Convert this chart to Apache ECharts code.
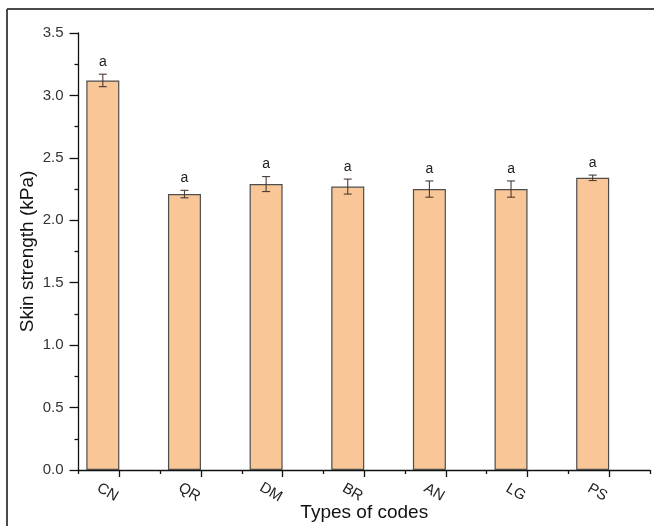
<!DOCTYPE html>
<html>
<head>
<meta charset="utf-8">
<script src="https://cdn.jsdelivr.net/npm/echarts@6/dist/echarts.min.js"></script>
<style>html,body{margin:0;padding:0;background:#fff;}#c{width:654px;height:526px;}</style>
</head>
<body>
<div id="c"></div>
<script>
const categories = ['CN', 'QR', 'DM', 'BR', 'AN', 'LG', 'PS'];
const values = [3.12, 2.21, 2.29, 2.27, 2.25, 2.25, 2.34];
const errors = [0.05, 0.03, 0.06, 0.06, 0.065, 0.065, 0.022];
const letters = ['a', 'a', 'a', 'a', 'a', 'a', 'a'];
const yTicks = [0, 0.5, 1.0, 1.5, 2.0, 2.5, 3.0, 3.5];

const FONT = 'Liberation Sans, Arial, sans-serif';
const BAR_W = 33;

const chart = echarts.init(document.getElementById('c'));
chart.setOption({
  backgroundColor: '#fff',
  animation: false,
  graphic: [
    { type: 'line', shape: { x1: 7, y1: 9, x2: 654, y2: 9 }, style: { stroke: '#4a4a4a', lineWidth: 2 } },
    { type: 'line', shape: { x1: 7, y1: 9, x2: 7, y2: 526 }, style: { stroke: '#4a4a4a', lineWidth: 2 } }
  ],
  grid: { left: 78.5, right: 4, top: 33, bottom: 56, containLabel: false, outerBoundsMode: 'none' },
  xAxis: [
    {
      type: 'category',
      data: categories,
      position: 'bottom',
      name: 'Types of codes',
      nameLocation: 'middle',
      nameGap: 33,
      nameMoveOverlap: false,
      nameTextStyle: { fontFamily: FONT, fontSize: 19, color: '#111' },
      axisLine: { show: true, lineStyle: { color: '#111', width: 1.3 } },
      axisTick: { show: true, alignWithLabel: true, length: 7, lineStyle: { color: '#111', width: 1.3 } },
      axisLabel: {
        rotate: -30, align: 'center', verticalAlign: 'top', margin: 2,
        padding: [16, 0, 0, 0],
        fontFamily: FONT, fontSize: 15, color: '#222'
      },
      splitLine: { show: false }
    },
    {
      type: 'category',
      data: categories,
      position: 'bottom',
      axisLine: { show: false },
      axisTick: { show: true, alignWithLabel: false, length: 4, lineStyle: { color: '#111', width: 1.3 } },
      axisLabel: { show: false },
      splitLine: { show: false }
    }
  ],
  yAxis: {
    type: 'value',
    name: 'Skin strength (kPa)',
    nameLocation: 'middle',
    nameGap: 41,
    nameMoveOverlap: false,
    nameTextStyle: { fontFamily: FONT, fontSize: 19, color: '#111' },
    min: yTicks[0],
    max: yTicks[yTicks.length - 1],
    interval: 0.5,
    axisLine: { show: true, lineStyle: { color: '#111', width: 1.3 } },
    axisTick: { show: true, length: 9, lineStyle: { color: '#111', width: 1.3 } },
    minorTick: { show: true, splitNumber: 2, length: 4, lineStyle: { color: '#111', width: 1.3 } },
    axisLabel: { formatter: v => v.toFixed(1), margin: 15, fontFamily: FONT, fontSize: 15, color: '#333' },
    splitLine: { show: false }
  },
  series: [
    {
      type: 'bar',
      xAxisIndex: 0,
      data: values,
      barWidth: BAR_W,
      barGap: '0%',
      itemStyle: { color: '#F9C797', borderColor: '#4d4d4d', borderWidth: 1.2 }
    },
    {
      type: 'bar',
      xAxisIndex: 0,
      data: values.map(() => 0),
      barWidth: BAR_W,
      itemStyle: { color: 'rgba(0,0,0,0)', borderWidth: 0 },
      silent: true
    },
    {
      type: 'custom',
      xAxisIndex: 0,
      data: values.map((v, i) => [i, v, errors[i]]),
      z: 10,
      renderItem: function (params, api) {
        const i = api.value(0), v = api.value(1), e = api.value(2);
        const top = api.coord([i, v + e]);
        const bot = api.coord([i, v - e]);
        const x = top[0] - BAR_W / 2;
        const cap = 4;
        const st = { stroke: '#4a3b33', lineWidth: 1.1 };
        return {
          type: 'group',
          children: [
            { type: 'line', shape: { x1: x, y1: top[1], x2: x, y2: bot[1] }, style: st },
            { type: 'line', shape: { x1: x - cap, y1: top[1], x2: x + cap, y2: top[1] }, style: st },
            { type: 'line', shape: { x1: x - cap, y1: bot[1], x2: x + cap, y2: bot[1] }, style: st },
            { type: 'text', style: { text: letters[i], x: x, y: top[1] - 5, align: 'center', verticalAlign: 'bottom', fontFamily: FONT, fontSize: 14, fill: '#222' } }
          ]
        };
      }
    }
  ]
});
</script>
</body>
</html>
